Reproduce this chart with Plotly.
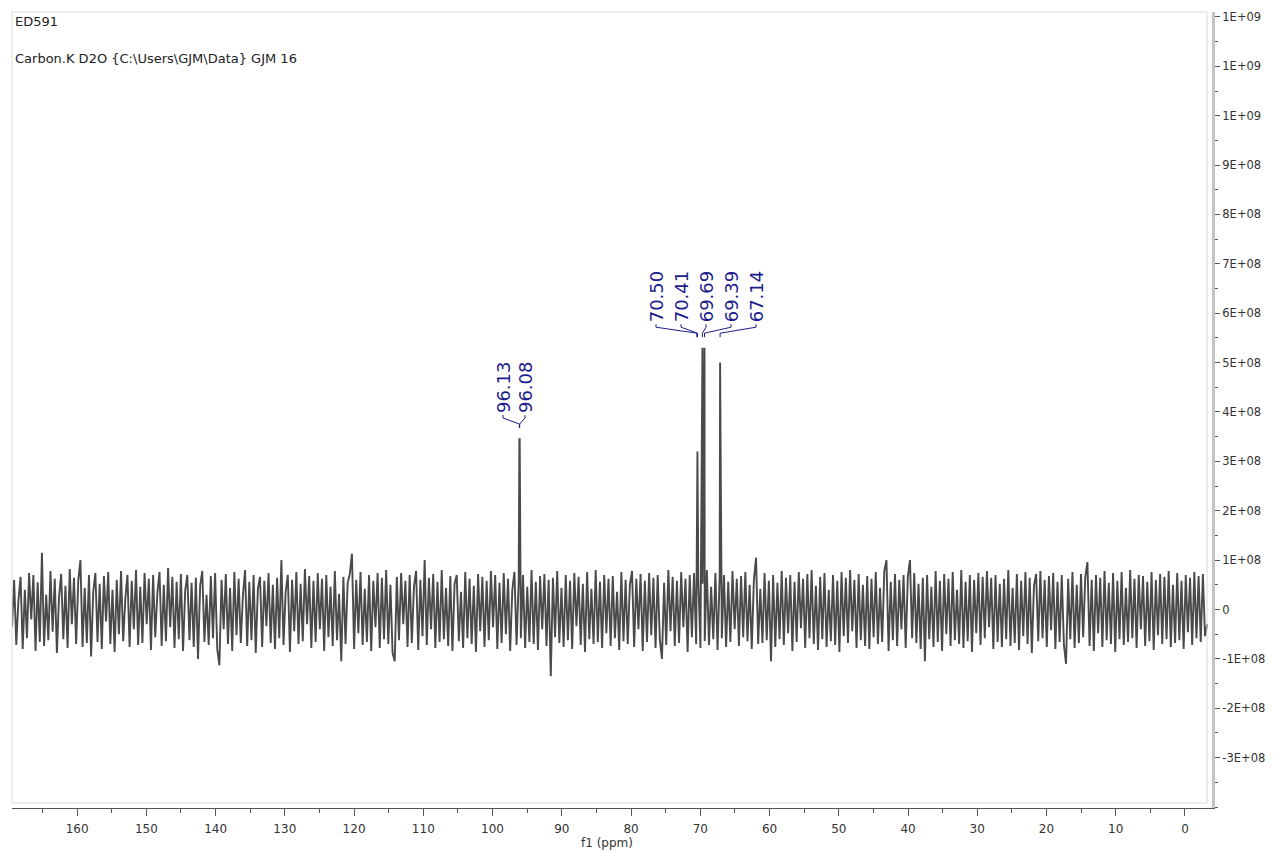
import numpy as np
import plotly.graph_objects as go

# spectrum header
sample_name = "ED591"
experiment = "Carbon.K D2O {C:\\Users\\GJM\\Data} GJM 16"

# peak picking (ppm) and heights
peak_ppm = [96.13, 96.08, 70.50, 70.41, 69.69, 69.39, 67.14]
peak_height = [3.45e8, 3.45e8, 3.2e8, 3.2e8, 5.3e8, 5.3e8, 5.0e8]

# baseline noise, read left to right (units of 1e6)
noise = [
    -35, 60, -72, 18, 66, -80, 40, -58, 74, -20, 70, -84, 55, -66, 115, -74, 30, -62, 78, -45,
    62, -88, 25, 72, -60, 48, -78, 82, -30, 64, -70, 58, 100, -76, 44, -68, 70, -95, 36, 74,
    -66, 52, -80, 68, -24, 76, -70, 40, -86, 60, -50, 78, -64, 22, 70, -76, 58, -40, 80, -72,
    46, -68, 74, -30, 62, -82, 70, -56, 34, 76, -74, 50, -64, 84, -36, 66, -78, 56, -60, 72,
    -84, 38, 70, -62, 54, -76, 64, -100, 48, 78, -66, 30, -72, 68, -58, 74, -80, -113, 60, -40,
    72, -70, 44, -84, 76, -52, 62, -68, 28, 80, -74, 56, -62, 70, -88, 42, 66, -76, 58, -34,
    74, -68, 50, -80, 64, -58, 100, -72, 36, 70, -86, 60, -44, 76, -70, 52, -64, 82, -30, 68,
    -78, 58, -66, 74, -40, 62, -84, 70, -56, 46, -74, 78, -62, 32, -105, 66, -70, 54, 72, 113,
    -80, 60, -48, 76, -72, 42, -66, 70, -84, 58, -36, 74, -78, 64, -60, 80, -70, 50, -88, -105,
    66, -62, 74, -30, 58, -76, 70, -68, 46, 78, -82, 60, -54, 100, -72, 64, -40, 72, -78, 56,
    -66, 80, -60, 44, -74, 68, -84, 52, 70, -64, 36, -78, 76, -58, 62, -70, 48, -86, 72, -44,
    66, -76, 58, -62, 78, -36, 70, -80, 54, -68, 74, -50, 62, -84, 40, 76, -72, 60, -58, 70,
    -78, 46, -66, 80, -70, 56, -82, 68, -40, 72, -74, 60, -135, 64, -56, 78, -68, 44, -76, 70,
    -62, 58, -80, 74, -34, 66, -72, 52, -86, 76, -60, 42, -70, 80, -66, 56, -78, 70, -48, 62,
    -74, 68, -58, 36, -82, 76, -64, 60, -70, 50, 78, -76, 62, -40, 72, -84, 58, -66, 74, -52,
    64, -78, 70, -60, -100, 54, -72, 80, -44, 66, -74, 58, -68, 76, -36, 62, -86, 70, -56, 74,
    -70, 60, -78, 52, -64, 80, -72, 46, -60, 74, -82, 66, -58, 70, -76, 56, -66, 78, -40, 62,
    -74, 68, -56, 76, -64, 50, -80, 60, 105, -70, 42, -68, 74, -62, 58, -105, 70, -76, 54, -60,
    78, -72, 64, -48, 70, -84, 56, -66, 76, -38, 62, -78, 72, -58, 80, -70, 48, -82, 66, -60,
    74, -76, 40, -64, 70, -72, 58, -86, 76, -54, 64, -68, 80, -44, 60, -78, 72, -62, 50, -74,
    68, -80, 62, -56, 76, -70, 44, -66, 78, 100, -84, 56, -62, 72, -74, 60, -40, 70, -78, 66,
    100, -58, 74, -68, 52, -80, 64, -105, 70, -60, 46, -76, 78, -66, 58, -84, 72, -50, 62, -74,
    76, -62, 40, -70, 80, -78, 56, -64, 70, -86, 60, -48, 74, -72, 66, -58, 78, -36, 64, -80,
    70, -66, 52, -76, 62, -60, 80, -74, 44, -68, 72, -82, 58, -54, 76, -70, 64, -88, 48, 72,
    -64, 78, -58, 60, -76, 68, -42, 74, -80, 56, -66, 70, -72, -110, 62, -60, 76, -78, 50, -68,
    72, -56, 66, 96, -74, 60, -84, 70, -48, 64, -76, 78, -62, 54, -70, 74, -86, 58, -60, 76,
    -72, 44, -66, 80, -58, 62, -78, 70, -40, 68, -74, 56, -64, 76, -82, 60, -52, 72, -70, 66,
    -60, 78, -76, 50, -68, 74, -62, 58, -80, 70, -46, 64, -72, 76, -58, 68, -66, 72, -54, -30,
]

y_ticks = [-3e8, -2e8, -1e8, 0, 1e8, 2e8, 3e8, 4e8, 5e8, 6e8, 7e8, 8e8, 9e8, 1e9, 1.1e9, 1.2e9]
y_ticktext = ["-3E+08", "-2E+08", "-1E+08", "0", "1E+08", "2E+08", "3E+08", "4E+08",
              "5E+08", "6E+08", "7E+08", "8E+08", "9E+08", "1E+09", "1E+09", "1E+09"]

X_RANGE = [169.4, -3.9]
Y_RANGE = [-4.02e8, 12.10e8]
OFF = 8  # page body margin
W, H = 1275 - OFF, 852 - OFF
L, R, T, B = 4, 63, 2, 44
PW, PH = W - L - R, H - T - B
PX0, PY0 = L + OFF, T + OFF  # plot area corner on the page

def px_x(px):
    return X_RANGE[0] - (px - PX0) * (X_RANGE[0] - X_RANGE[1]) / PW

def px_y(py):
    return Y_RANGE[1] - (py - PY0) * (Y_RANGE[1] - Y_RANGE[0]) / PH

# build spectrum
noise_ppm = np.linspace(169.4, -3.2, len(noise))
ppm = np.concatenate([noise_ppm, peak_ppm])
inten = np.concatenate([np.array(noise) * 1e6, peak_height])
order = np.argsort(-ppm)
ppm, inten = ppm[order], inten[order]

fig = go.Figure(go.Scatter(x=ppm, y=inten, mode="lines",
                           line=dict(color="#4a4a4a", width=1.9), hoverinfo="skip"))

NAVY = "#1c1c8c"
annotations = []
shapes = []

# peak label groups: (peak indices, label px positions, label bottom px)
groups = [
    ([0, 1], [503, 525], 413),
    ([2, 3, 4, 5, 6], [656, 681, 706, 731, 756], 322),
]
for idx, lx, yb in groups:
    for i, x in zip(idx, lx):
        annotations.append(dict(
            x=px_x(x), y=px_y(yb - 27), xref="x", yref="y", text=f"{peak_ppm[i]:.2f}",
            textangle=-90, showarrow=False, xanchor="center", yanchor="middle",
            font=dict(family="DejaVu Sans", size=18, color=NAVY)))
        xp = PX0 + (X_RANGE[0] - peak_ppm[i]) / (X_RANGE[0] - X_RANGE[1]) * PW
        pts = [(x, yb + 1), (x, yb + 4), (xp, yb + 10), (xp, yb + 14)]
        path = "M " + " L ".join(f"{px_x(a)},{px_y(b)}" for a, b in pts)
        shapes.append(dict(type="path", path=path, xref="x", yref="y",
                           line=dict(color=NAVY, width=1)))

# light frame around the spectrum area
shapes.append(dict(type="rect", xref="paper", yref="paper", x0=0, x1=(1207 - PX0) / PW,
                   y0=(PY0 + PH - 803) / PH, y1=1, line=dict(color="#dadada", width=1)))

annotations += [
    dict(x=1 / PW, y=1 - (20 - PY0) / PH, xref="paper", yref="paper", text=sample_name,
         showarrow=False, xanchor="left", yanchor="middle",
         font=dict(family="DejaVu Sans", size=13, color="#222")),
    dict(x=1 / PW, y=1 - (57 - PY0) / PH, xref="paper", yref="paper", text=experiment,
         showarrow=False, xanchor="left", yanchor="middle",
         font=dict(family="DejaVu Sans", size=13, color="#222")),
    dict(x=(607 - PX0) / PW, y=-(843 - (PY0 + PH)) / PH, xref="paper", yref="paper",
         text="f1 (ppm)", showarrow=False, xanchor="center", yanchor="middle",
         font=dict(family="DejaVu Sans", size=12, color="#333")),
]

fig.update_layout(
    width=W, height=H, margin=dict(l=L, r=R, t=T, b=B),
    paper_bgcolor="white", plot_bgcolor="white", showlegend=False,
    annotations=annotations, shapes=shapes,
    xaxis=dict(range=X_RANGE, showgrid=False, zeroline=False, showline=True,
               linecolor="#555", linewidth=1, ticks="outside", ticklen=7,
               tickcolor="#555", dtick=10, tick0=0, ticklabelstandoff=3,
               tickfont=dict(family="DejaVu Sans", size=12, color="#333"),
               minor=dict(dtick=5, ticks="outside", ticklen=4, tickcolor="#555")),
    yaxis=dict(range=Y_RANGE, side="right", showgrid=False, zeroline=False,
               showline=True, linecolor="#c4c4c4", linewidth=3, ticks="outside",
               ticklen=5, tickcolor="#555", tickvals=y_ticks, ticktext=y_ticktext,
               ticklabeloverflow="allow",
               tickfont=dict(family="DejaVu Sans", size=11.5, color="#333"),
               minor=dict(dtick=5e7, tick0=0, ticks="outside", ticklen=3, tickcolor="#555")),
)

fig.write_html("out.html")
